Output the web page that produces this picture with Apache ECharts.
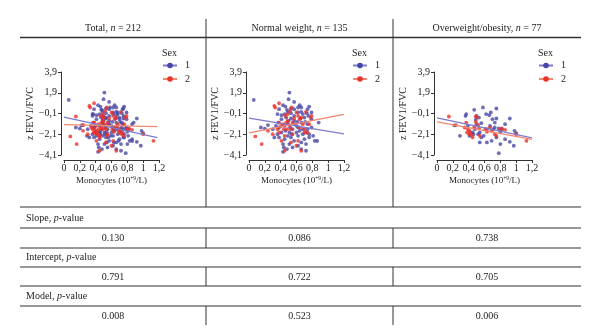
<!DOCTYPE html>
<html><head><meta charset="utf-8">
<script src="https://cdn.jsdelivr.net/npm/echarts@6/dist/echarts.min.js"></script>
<style>html,body{margin:0;padding:0;background:#fff}#c{width:600px;height:329px}</style>
</head><body><div id="c"></div>
<script>
// ---- Data ----
const panelTitles = [['Total, ', 'n', ' = 212'], ['Normal weight, ', 'n', ' = 135'], ['Overweight/obesity, ', 'n', ' = 77']];
const sexLabels = ['1', '2'];
const xTicks = [0, 0.2, 0.4, 0.6, 0.8, 1, 1.2];
const xTickLabels = ['0', '0,2', '0,4', '0,6', '0,8', '1', '1,2'];
const yTicks = [-4.1, -2.1, -0.1, 1.9, 3.9];
const yTickLabels = ['\u22124,1', '\u22122,1', '\u22120,1', '1,9', '3,9'];

// Normal weight, sex 1 / sex 2
const nwSex1 = [[0.06,1.21],[0.51,1.92],[0.50,1.28],[0.57,1.02],[0.43,0.70],[0.46,0.57],[0.64,0.70],[0.66,0.48],[0.74,0.32],[0.76,0.57],[0.38,0.32],[0.36,-0.16],[0.49,0.06],[0.53,-0.07],[0.57,-0.33],[0.62,0.00],[0.68,-0.16],[0.70,-0.49],[0.79,-0.65],[0.88,-0.97],[0.74,-1.13],[0.66,-0.97],[0.57,-0.81],[0.53,-0.58],[0.47,-0.49],[0.41,-0.65],[0.37,-0.97],[0.34,-1.29],[0.24,-1.22],[0.15,-1.45],[0.30,-1.61],[0.45,-1.29],[0.49,-1.13],[0.52,-1.45],[0.55,-1.61],[0.62,-1.45],[0.68,-1.61],[0.72,-1.93],[0.76,-2.09],[0.81,-2.25],[0.83,-2.73],[0.70,-2.57],[0.66,-2.89],[0.62,-3.21],[0.57,-2.73],[0.53,-2.41],[0.49,-2.25],[0.45,-2.57],[0.43,-3.05],[0.44,-3.37],[0.43,-3.79],[0.48,-3.53],[0.51,-3.05],[0.55,-3.37],[0.66,-3.53],[0.72,-3.69],[0.62,-2.25],[0.41,-1.93],[0.36,-2.09],[0.32,-2.41],[0.60,-1.93],[0.64,-1.77],[0.68,-2.09],[0.74,-1.61],[0.79,-1.45],[0.38,-1.45],[0.46,-1.77],[0.51,-1.93],[0.57,-1.13],[0.61,-0.90],[0.65,-0.58],[0.71,-0.90],[0.75,-0.33],[0.79,0.00],[0.57,0.32],[0.62,0.48],[0.53,0.38],[0.48,0.25],[0.45,-0.16],[0.41,-0.26],[0.66,0.06],[0.73,-0.07],[0.50,-0.81],[0.54,-2.09],[0.60,-1.29],[0.38,-2.41],[0.72,-3.05],[0.76,-2.41],[0.20,-1.55],[0.86,-2.75]];
const nwSex2 = [[0.32,0.64],[0.38,0.89],[0.33,0.48],[0.54,0.48],[0.52,0.16],[0.62,-0.33],[0.66,-0.49],[0.72,0.06],[0.79,-0.33],[0.78,-0.49],[0.47,-0.97],[0.49,-0.81],[0.43,-1.13],[0.51,-1.22],[0.57,-0.58],[0.41,-1.29],[0.36,-1.61],[0.38,-1.93],[0.30,-2.09],[0.24,-1.77],[0.08,-2.31],[0.16,-3.05],[0.44,-1.61],[0.48,-1.61],[0.53,-1.61],[0.62,-2.73],[0.66,-3.69],[0.60,-3.21],[0.70,-1.93],[0.74,-1.93],[0.55,-2.09],[0.45,-2.25],[0.41,-2.73],[0.38,-0.97],[0.64,-1.45],[0.68,-1.13],[0.76,-1.13],[0.49,-0.16],[0.46,-0.33],[0.55,-0.97],[0.64,-0.65],[0.60,0.00],[0.70,-1.61],[0.45,-3.69],[0.53,-2.89]];
// Overweight/obesity, sex 1 / sex 2
const owSex1 = [[0.58,0.48],[0.47,0.25],[0.37,-0.16],[0.36,-0.33],[0.50,-0.33],[0.53,-0.49],[0.62,-0.16],[0.66,-0.26],[0.75,0.38],[0.70,-0.65],[0.75,-0.58],[0.68,0.00],[0.92,-0.58],[0.86,-1.13],[0.98,-1.77],[0.39,-1.29],[0.29,-2.25],[0.50,-1.13],[0.48,-1.61],[0.46,-2.09],[0.52,-2.09],[0.54,-1.93],[0.56,-2.41],[0.59,-2.25],[0.63,-1.61],[0.67,-1.29],[0.71,-1.61],[0.73,-1.45],[0.78,-1.54],[0.80,-1.86],[0.69,-2.73],[0.75,-2.41],[0.80,-3.05],[0.86,-2.57],[0.92,-2.83],[0.97,-3.21],[0.78,-3.92],[0.63,-2.89],[0.54,-2.89],[0.41,-2.25],[0.45,-1.93],[0.49,-0.71],[0.56,-1.03],[0.73,-0.97],[0.82,-1.61],[0.22,-1.25],[1.00,-2.00]];
const owSex2 = [[0.15,-0.39],[0.37,-0.97],[0.39,-1.61],[0.41,-1.77],[0.42,-1.93],[0.41,-2.09],[0.44,-2.18],[0.45,-2.41],[0.47,-1.45],[0.49,-0.90],[0.52,-1.22],[0.53,-1.54],[0.61,-1.61],[0.63,-1.86],[0.69,-1.77],[0.73,-2.09],[0.75,-2.25],[0.80,-1.61],[0.82,-1.54],[1.00,-2.09],[1.13,-2.73],[0.24,-1.22],[0.35,-1.45],[0.38,-1.93],[0.54,-2.25],[0.67,-1.45],[0.86,-1.67],[0.49,-0.39],[0.50,-0.49]];

// Fitted lines (endpoints)
const fitTotal1 = [[0, -0.45], [1.18, -2.42]];
const fitTotal2 = [[0, -1.18], [1.18, -1.36]];
const fitNw1 = [[0, -0.55], [1.2, -2.06]];
const fitNw2 = [[0, -1.96], [1.2, -0.18]];
const fitOw1 = [[0, -0.52], [1.2, -2.45]];
const fitOw2 = [[0, -0.90], [1.2, -2.60]];

// Table
const rowLabels = [['Slope, ', 'p', '-value'], ['Intercept, ', 'p', '-value'], ['Model, ', 'p', '-value']];
const pSlope = ['0.130', '0.086', '0.738'];
const pIntercept = ['0.791', '0.722', '0.705'];
const pModel = ['0.008', '0.523', '0.006'];

// ---- Build ----
const FONT = '"Liberation Serif", "DejaVu Serif", serif';
const TXT = '#222';
const AX = '#333';
const C1 = '#4747a8', C2 = '#e8322a';
const L1 = '#7b7bcc', L2 = '#f2876f';

const panels = [
  { s1: nwSex1.concat(owSex1), s2: nwSex2.concat(owSex2), f1: fitTotal1, f2: fitTotal2 },
  { s1: nwSex1, s2: nwSex2, f1: fitNw1, f2: fitNw2 },
  { s1: owSex1, s2: owSex2, f1: fitOw1, f2: fitOw2 }
];
const gridLeft = [64, 249, 437];
const legendLeft = [162, 352, 538];
const colCenters = [113, 299.5, 487];
const colEdges = [20, 206, 393, 581];

const fmtX = v => { const i = xTicks.findIndex(t => Math.abs(t - v) < 1e-6); return i >= 0 ? xTickLabels[i] : ''; };
const fmtY = v => { const i = yTicks.findIndex(t => Math.abs(t - v) < 1e-6); return i >= 0 ? yTickLabels[i] : ''; };

const grid = [], xAxis = [], yAxis = [], series = [], legend = [];
panels.forEach((p, i) => {
  grid.push({ left: gridLeft[i], top: 72, width: 95, height: 83 });
  xAxis.push({
    gridIndex: i, type: 'value', min: 0, max: 1.2, interval: 0.2, offset: 5,
    axisLine: { show: true, onZero: false, lineStyle: { color: AX, width: 1 } },
    axisTick: { show: true, length: 3, lineStyle: { color: AX } },
    splitLine: { show: false },
    axisLabel: { fontFamily: FONT, fontSize: 10, color: TXT, margin: 3, formatter: fmtX, showMinLabel: true, showMaxLabel: true },
    name: 'Monocytes (10{s|+9}/L)', nameLocation: 'middle', nameGap: 16,
    nameTextStyle: { fontFamily: FONT, fontSize: 9, color: TXT, rich: { s: { fontFamily: FONT, fontSize: 5.5, color: TXT, verticalAlign: 'top', padding: [0, 0, 4, 0] } } }
  });
  yAxis.push({
    gridIndex: i, type: 'value', min: -4.1, max: 3.9, offset: 3,
    axisLine: { show: true, onZero: false, lineStyle: { color: AX, width: 1 } },
    axisTick: { show: true, length: 3, lineStyle: { color: AX }, customValues: yTicks },
    splitLine: { show: false },
    axisLabel: { fontFamily: FONT, fontSize: 10, color: TXT, margin: 4, customValues: yTicks, formatter: fmtY },
    name: 'z FEV1/FVC', nameLocation: 'middle', nameGap: 22,
    nameTextStyle: { fontFamily: FONT, fontSize: 10, color: TXT }
  });
  const fits = [p.f1, p.f2], pts = [p.s1, p.s2], cs = [C1, C2], ls = [L1, L2];
  for (let k = 0; k < 2; k++) {
    series.push({
      name: sexLabels[k], type: 'line', xAxisIndex: i, yAxisIndex: i, data: fits[k],
      showSymbol: false, symbol: 'circle', symbolSize: 7, silent: true, z: 4,
      lineStyle: { color: ls[k], width: 1.2 }, itemStyle: { color: cs[k] }
    });
  }
  for (let k = 0; k < 2; k++) {
    series.push({
      name: sexLabels[k], type: 'scatter', xAxisIndex: i, yAxisIndex: i, data: pts[k],
      symbol: 'circle', symbolSize: 3.8, itemStyle: { color: cs[k] }, silent: true, z: 3
    });
  }
  legend.push({
    data: sexLabels, orient: 'vertical', left: legendLeft[i], top: 60.5, padding: 0,
    itemWidth: 14, itemHeight: 7, itemGap: 3.5, selectedMode: false,
    textStyle: { fontFamily: FONT, fontSize: 10, color: TXT, padding: [0, 0, 0, 3] }
  });
});

const graphic = [];
const richT = { r: { fontFamily: FONT, fontSize: 10, fill: TXT, color: TXT }, i: { fontFamily: FONT, fontSize: 10, fontStyle: 'italic', fill: TXT, color: TXT } };
panelTitles.forEach((t, i) => {
  graphic.push({ type: 'text', x: colCenters[i], y: 28, style: { text: '{r|' + t[0] + '}{i|' + t[1] + '}{r|' + t[2] + '}', rich: richT, align: 'center', verticalAlign: 'middle' } });
  graphic.push({ type: 'text', x: legendLeft[i], y: 53, style: { text: 'Sex', fontFamily: FONT, fontSize: 10, fill: TXT, align: 'left', verticalAlign: 'middle' } });
});
const hl = (y, w) => ({ type: 'line', shape: { x1: colEdges[0], y1: y, x2: colEdges[3], y2: y }, style: { stroke: AX, lineWidth: w } });
const vl = (x, y1, y2) => ({ type: 'line', shape: { x1: x, y1: y1, x2: x, y2: y2 }, style: { stroke: AX, lineWidth: 1 } });
graphic.push(hl(37.5, 1.3));
[207, 228, 248, 267, 286, 306].forEach(y => graphic.push(hl(y, 1.2)));
[206, 393].forEach(x => {
  graphic.push(vl(x, 19, 207));
  graphic.push(vl(x, 228, 248));
  graphic.push(vl(x, 267, 286));
  graphic.push(vl(x, 306, 325));
});
const labelY = [218, 257, 296.5];
const valueY = [238.5, 277, 316];
const valueRows = [pSlope, pIntercept, pModel];
rowLabels.forEach((t, r) => {
  graphic.push({ type: 'text', x: 26, y: labelY[r], style: { text: '{r|' + t[0] + '}{i|' + t[1] + '}{r|' + t[2] + '}', rich: richT, align: 'left', verticalAlign: 'middle' } });
  valueRows[r].forEach((v, c) => {
    graphic.push({ type: 'text', x: colCenters[c], y: valueY[r], style: { text: v, fontFamily: FONT, fontSize: 10, fill: TXT, align: 'center', verticalAlign: 'middle' } });
  });
});

const chart = echarts.init(document.getElementById('c'), null, { renderer: 'canvas' });
chart.setOption({
  animation: false, backgroundColor: '#fff',
  grid, xAxis, yAxis, series, legend, graphic
});
</script>
</body></html>
